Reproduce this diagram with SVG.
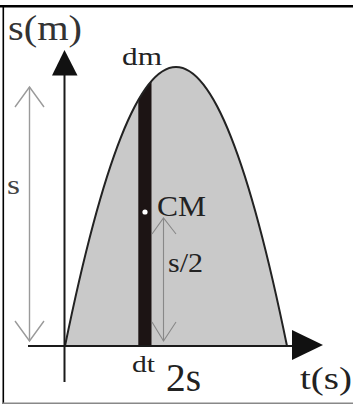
<svg xmlns="http://www.w3.org/2000/svg" width="353" height="405" viewBox="0 0 353 405">
  <style>
    text { font-family: "Liberation Serif", "Times New Roman", serif; fill: #222; }
    .gray-arrow { stroke: #9a9a9a; stroke-width: 1.4; fill: none; }
    .thin-arrow { stroke: #888; stroke-width: 1.1; fill: none; }
    .axis { stroke: #1a1a1a; stroke-width: 2; fill: none; }
  </style>
  <defs>
    <clipPath id="under-curve">
      <path d="M65,346 C141,-26 211,-26 287,346 Z"/>
    </clipPath>
  </defs>
  <rect x="0" y="0" width="353" height="405" fill="#ffffff"/>
  <g id="frame">
    <line x1="0" y1="6.3" x2="353" y2="6.3" stroke="#000" stroke-width="2.5"/>
    <line x1="3.3" y1="5" x2="3.3" y2="404" stroke="#000" stroke-width="1.6"/>
    <line x1="3" y1="403.3" x2="353" y2="403.3" stroke="#888" stroke-width="1.5"/>
  </g>
  <g id="area">
    <path d="M65,346 C141,-26 211,-26 287,346 Z" fill="#c9c9c9" stroke="none"/>
    <rect x="138.3" y="40" width="13.2" height="306" fill="#1c1414" clip-path="url(#under-curve)"/>
    <path d="M65,346 C141,-26 211,-26 287,346" fill="none" stroke="#222" stroke-width="2"/>
    <circle cx="145" cy="212" r="2.6" fill="#ffffff"/>
  </g>
  <g id="connectors">
    <line class="axis" x1="64.5" y1="74" x2="64.5" y2="382"/>
    <polygon points="64.5,50 52,75.5 77.5,75.5" fill="#111"/>
    <line class="axis" x1="28" y1="346" x2="293" y2="346"/>
    <polygon points="323,345 292,330 292,360" fill="#111"/>
    <line class="gray-arrow" x1="29.5" y1="87" x2="29.5" y2="341"/>
    <polyline class="gray-arrow" points="15,107 29.5,87 44,107"/>
    <polyline class="gray-arrow" points="15,321 29.5,341 44,321"/>
    <line class="thin-arrow" x1="163.5" y1="218" x2="163.5" y2="341"/>
    <polyline class="thin-arrow" points="152,234 163.5,218 176,234"/>
    <polyline class="thin-arrow" points="152,322 163.5,341 176,322"/>
  </g>
  <g id="label-sm"><text x="8" y="40" font-size="35" textLength="74" lengthAdjust="spacingAndGlyphs" style="fill:#333">s(m)</text></g>
  <g id="label-dm"><text x="122" y="65" font-size="26" textLength="40" lengthAdjust="spacingAndGlyphs">dm</text></g>
  <g id="label-s"><text x="7" y="194" font-size="28" textLength="13" lengthAdjust="spacingAndGlyphs" style="fill:#444">s</text></g>
  <g id="label-cm"><text x="157" y="216" font-size="30" textLength="49" lengthAdjust="spacingAndGlyphs">CM</text></g>
  <g id="label-s2"><text x="168" y="272" font-size="27" textLength="35" lengthAdjust="spacingAndGlyphs">s/2</text></g>
  <g id="label-dt"><text x="132" y="372" font-size="24" textLength="23" lengthAdjust="spacingAndGlyphs">dt</text></g>
  <g id="label-2s"><text x="166" y="391" font-size="41" textLength="35" lengthAdjust="spacingAndGlyphs">2s</text></g>
  <g id="label-ts"><text x="300" y="389" font-size="32" textLength="52" lengthAdjust="spacingAndGlyphs">t(s)</text></g>
</svg>
